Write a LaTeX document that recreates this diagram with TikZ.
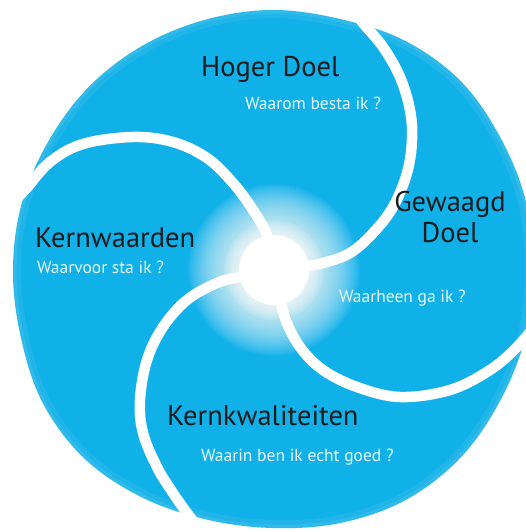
\documentclass[tikz,border=0pt]{standalone}
\usepackage{fontspec}
\setmainfont{PT Sans}
\definecolor{cblue}{RGB}{16,176,232}
\definecolor{headc}{RGB}{28,28,30}
\definecolor{subc}{RGB}{232,247,253}
\tikzset{
  sepline/.style={draw=white, line width=10.5pt, line cap=round},
  head/.style={text=headc, font=\fontsize{28.5}{30}\selectfont, inner sep=0pt, anchor=base west},
  sub/.style={text=subc, font=\fontsize{17.5}{20}\selectfont, inner sep=0pt, anchor=base west},
}
\def\outline{plot[smooth cycle, tension=0.6] coordinates {
 (-90:260) (-75:260) (-60:265) (-45:267) (-30:264) (-15:263) (0:261) (15:262) (30:263) (45:266)
 (60:266) (75:262) (90:258) (105:258) (120:262) (135:266) (150:265) (165:260) (180:259) (195:259)
 (210:258) (225:259) (240:259) (255:259)}}
\begin{document}
\begin{tikzpicture}[x=1pt,y=-1pt]
\useasboundingbox (0,0) rectangle (525,532);
% body
\begin{scope}[shift={(272,270)}]
  \path[fill=cblue] \outline;
  \clip \outline;
  \draw[white, opacity=0.07, line width=16pt] \outline;
  \draw[white, opacity=0.07, line width=7pt] \outline;
\end{scope}
% glow round the core
\foreach \r in {36,38,...,86} {
  \fill[white, opacity=0.06] (274,270) circle (\r pt);
}
\foreach \r in {36,38,...,50} {
  \fill[white, opacity=0.10] (274,270) circle (\r pt);
}
% separators
\draw[sepline] plot[smooth, tension=0.6] coordinates {
 (10,205) (25,190) (50,162) (83,144) (133,137) (173,142) (207,158) (233,183) (253,210) (267,235) (272,258)};
\draw[sepline] plot[smooth, tension=0.6] coordinates {
 (352,8) (363,23) (383,47) (400,77) (410,110) (412,140) (407,173) (393,207) (373,233) (350,253) (323,263) (295,268)};
\draw[sepline] plot[smooth, tension=0.6] coordinates {
 (279,290) (285,318) (300,347) (323,370) (357,387) (400,397) (450,390) (490,370) (517,347) (540,320)};
\draw[sepline] plot[smooth, tension=0.6] coordinates {
 (258,274) (240,277) (217,283) (187,300) (163,327) (147,360) (140,400) (143,433) (157,467) (173,493) (190,517) (204,534)};
% core
\node[circle, fill=white, minimum size=70pt, inner sep=0pt] (core) at (274,270) {};
% texts
\node[head] (hoger) at (201,77) {Hoger Doel};
\node[sub] (hogersub) at (245,110) {Waarom besta ik ?};
\node[head] (kernw) at (35,247) {Kernwaarden};
\node[sub] (kernwsub) at (37,273) {Waarvoor sta ik ?};
\node[text=headc, font=\fontsize{28.5}{31}\selectfont, inner sep=0pt, align=center, anchor=base] (gewaagd) at (450,242) {Gewaagd\\Doel};
\node[sub] (gewaagdsub) at (339,302) {Waarheen ga ik ?};
\node[head] (kernk) at (167,425) {Kernkwaliteiten};
\node[sub] (kernksub) at (201,461) {Waarin ben ik echt goed ?};
\end{tikzpicture}
\end{document}
